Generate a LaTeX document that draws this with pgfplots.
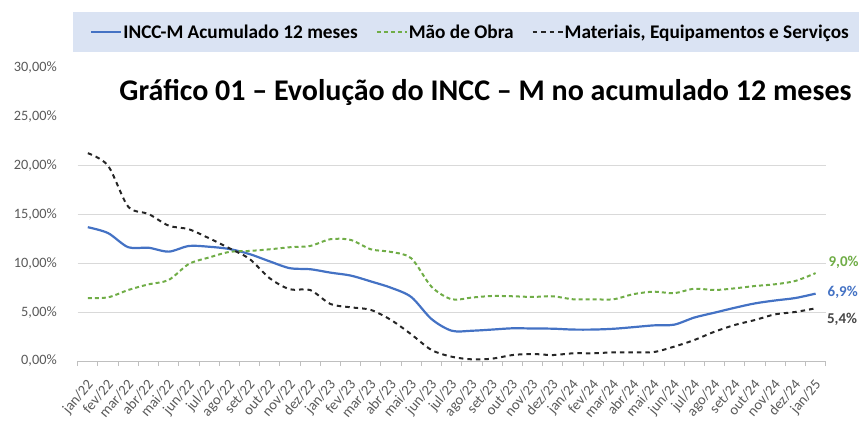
\documentclass[border=0pt]{standalone}
\usepackage{pgfplots}
\pgfplotsset{compat=1.18}
\usepackage{fontspec}
\setmainfont{Carlito}
\definecolor{cblue}{HTML}{4472C4}
\definecolor{cgreen}{HTML}{70AD47}
\definecolor{cdark}{HTML}{262626}
\definecolor{legbg}{HTML}{DAE3F3}
\definecolor{tickgray}{HTML}{595959}
\definecolor{gridgray}{HTML}{D9D9D9}
\definecolor{axgray}{HTML}{BFBFBF}

\pgfplotstableread{
x incc mao mat
0 13.70 6.45 21.28
1 13.10 6.52 20.00
2 11.65 7.27 15.80
3 11.60 7.85 15.06
4 11.20 8.30 13.86
5 11.78 9.94 13.49
6 11.70 10.60 12.57
7 11.47 11.17 11.55
8 10.95 11.27 10.45
9 10.20 11.44 8.47
10 9.50 11.65 7.34
11 9.40 11.78 7.27
12 9.05 12.47 5.84
13 8.75 12.40 5.50
14 8.15 11.44 5.23
15 7.50 11.17 4.20
16 6.55 10.52 2.73
17 4.30 7.61 1.13
18 3.10 6.32 0.44
19 3.10 6.50 0.17
20 3.22 6.66 0.24
21 3.35 6.63 0.61
22 3.33 6.56 0.72
23 3.31 6.63 0.61
24 3.22 6.32 0.79
25 3.22 6.32 0.79
26 3.30 6.32 0.89
27 3.47 6.85 0.89
28 3.65 7.10 0.92
29 3.72 6.95 1.47
30 4.45 7.40 2.15
31 4.95 7.27 3.00
32 5.45 7.44 3.69
33 5.90 7.68 4.20
34 6.20 7.86 4.78
35 6.45 8.20 5.02
36 6.90 9.00 5.40
}\datatable

\begin{document}
\begin{tikzpicture}[x=1bp,y=1bp]
\path[use as bounding box] (0,0) rectangle (859,-421);
\begin{axis}[
  at={(77.7bp,-361bp)}, anchor=south west,
  scale only axis, width=748bp, height=293bp,
  xmin=-0.5, xmax=36.5, ymin=0, ymax=30,
  clip=false,
  axis x line*=bottom, axis y line*=left,
  y axis line style={draw=none},
  x axis line style={axgray, line width=0.9bp},
  xtick={0,...,36},
  xticklabels={jan/22,fev/22,mar/22,abr/22,mai/22,jun/22,jul/22,ago/22,set/22,out/22,nov/22,dez/22,jan/23,fev/23,mar/23,abr/23,mai/23,jun/23,jul/23,ago/23,set/23,out/23,nov/23,dez/23,jan/24,fev/24,mar/24,abr/24,mai/24,jun/24,jul/24,ago/24,set/24,out/24,nov/24,dez/24,jan/25},
  major x tick style={draw=none},
  minor xtick={-0.5,0.5,...,36.5},
  minor tick length=5bp,
  minor x tick style={axgray, line width=0.9bp},
  tick align=outside,
  ytick={0,5,10,15,20,25,30},
  yticklabels={{0,00\%},{5,00\%},{10,00\%},{15,00\%},{20,00\%},{25,00\%},{30,00\%}},
  y tick style={draw=none},
  ymajorgrids,
  major y grid style={gridgray, line width=0.9bp},
  tick label style={font=\fontsize{14.3bp}{16bp}\selectfont, text=tickgray},
  yticklabel style={anchor=east, inner sep=0pt, xshift=-16.5bp},
  xticklabel style={font=\fontsize{14.6bp}{16bp}\selectfont, xshift=-2bp, yshift=-13bp, rotate=50, anchor=north east, inner sep=0pt},
  legend columns=3,
  legend style={at={(axis description cs:0.5245,1.1229)}, anchor=center,
    fill=legbg, draw=none, inner xsep=17bp, inner ysep=10bp,
    font=\bfseries\fontsize{19.3bp}{22bp}\selectfont,
    nodes={inner xsep=1bp, inner ysep=2bp},
    /tikz/every even column/.append style={column sep=17bp}},
  legend image code/.code={\draw[#1] (0bp,0bp) -- (30bp,0bp);},
]
\addplot[cblue, line width=2.2bp, smooth, tension=0.5] table[x=x, y=incc] {\datatable}
  node[pos=1, anchor=west, inner sep=0pt, xshift=11bp, yshift=1bp, font=\bfseries\fontsize{15bp}{18bp}\selectfont, text=cblue] {6,9\%};
\addlegendentry{INCC-M Acumulado 12 meses}
\addplot[cgreen, line width=2bp, dash pattern=on 4bp off 3bp, smooth, tension=0.5] table[x=x, y=mao] {\datatable}
  node[pos=1, anchor=west, inner sep=0pt, xshift=12bp, yshift=10.5bp, font=\bfseries\fontsize{15bp}{18bp}\selectfont, text=cgreen] {9,0\%};
\addlegendentry{Mão de Obra}
\addplot[cdark, line width=2bp, dash pattern=on 4.5bp off 4bp, smooth, tension=0.5] table[x=x, y=mat] {\datatable}
  node[pos=1, anchor=west, inner sep=0pt, xshift=10.5bp, yshift=-11bp, font=\bfseries\fontsize{15bp}{18bp}\selectfont, text=cdark!85] {5,4\%};
\addlegendentry{Materiais, Equipamentos e Serviços}
\end{axis}
\fill[white] (57,-58) rectangle (859,-145);
\node[anchor=base, inner sep=0pt, font=\bfseries\fontsize{30bp}{36bp}\selectfont] at (485.5,-100) {Gráfico 01 – Evolução do INCC – M no acumulado 12 meses};
\end{tikzpicture}
\end{document}
